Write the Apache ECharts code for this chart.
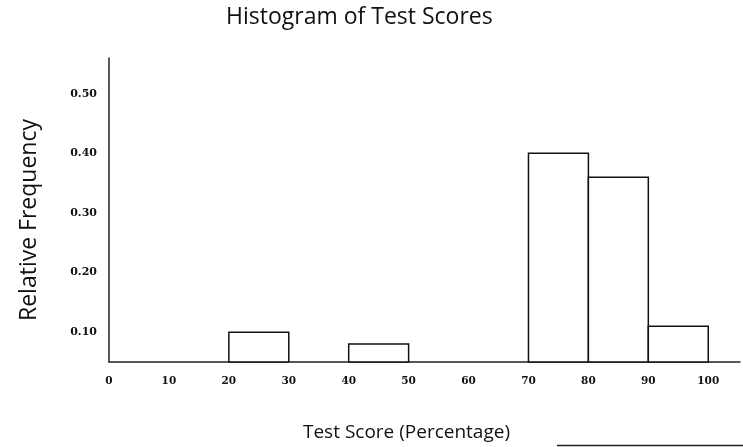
<!DOCTYPE html>
<html><head><meta charset="utf-8">
<script src="https://cdn.jsdelivr.net/npm/echarts@6/dist/echarts.min.js"></script>
<style>html,body{margin:0;padding:0;background:#fff}#c{width:743px;height:447px}</style>
</head><body><div id="c"></div>
<script>
const binStarts = [20, 40, 70, 80, 90];
const binEnds = [30, 50, 80, 90, 100];
const relFreq = [0.10, 0.08, 0.40, 0.36, 0.11];
const xTicks = [0, 10, 20, 30, 40, 50, 60, 70, 80, 90, 100];
const yTicks = [0.10, 0.20, 0.30, 0.40, 0.50];

const data = binStarts.map((s, i) => [s, binEnds[i], relFreq[i]]);
const chart = echarts.init(document.getElementById('c'));
chart.setOption({
  animation: false,
  title: {text: 'Histogram of Test Scores', left: 226, top: 6, padding: 0,
    textStyle: {fontFamily: 'Open Sans', fontWeight: 'normal', fontSize: 23, color: '#111'}},
  grid: {left: 109, right: 0, top: 58, bottom: 85},
  xAxis: {type: 'value', min: 0, max: 105.3, interval: 10,
    name: 'Test Score (Percentage)', nameLocation: 'middle', nameGap: 61,
    nameTextStyle: {fontFamily: 'Open Sans', fontSize: 19, color: '#111', padding: [0, 36, 0, 0]},
    axisLine: {lineStyle: {color: '#222', width: 1.5}},
    axisTick: {show: false}, splitLine: {show: false},
    axisLabel: {fontFamily: 'DejaVu Serif', fontSize: 10.5, fontWeight: 'bold', color: '#111', margin: 14,
      formatter: v => xTicks.includes(v) ? String(v) : ''}},
  yAxis: {type: 'value', min: 0.05, max: 0.56, interval: 0.05,
    name: 'Relative Frequency', nameLocation: 'middle', nameGap: 68,
    nameTextStyle: {fontFamily: 'Open Sans', fontSize: 23, color: '#111', padding: [0, 20, 0, 0]},
    axisLine: {show: true, lineStyle: {color: '#222', width: 1.5}},
    axisTick: {show: false}, splitLine: {show: false},
    axisLabel: {fontFamily: 'DejaVu Serif', fontSize: 11, fontWeight: 'bold', color: '#111', margin: 12,
      formatter: v => yTicks.some(t => Math.abs(t - v) < 1e-6) ? v.toFixed(2) : ''}},
  series: [{type: 'custom', data: data,
    renderItem: (params, api) => {
      const p0 = api.coord([api.value(0), 0.05]);
      const p1 = api.coord([api.value(1), api.value(2)]);
      return {type: 'rect', shape: {x: p0[0], y: p1[1], width: p1[0] - p0[0], height: p0[1] - p1[1]},
        style: {fill: '#fff', stroke: '#111', lineWidth: 1.5}};
    },
    encode: {x: [0, 1], y: 2}}],
  graphic: [{type: 'line', shape: {x1: 557, y1: 445.5, x2: 743, y2: 445.5}, style: {stroke: '#222', lineWidth: 1.5}}]
});
</script></body></html>
